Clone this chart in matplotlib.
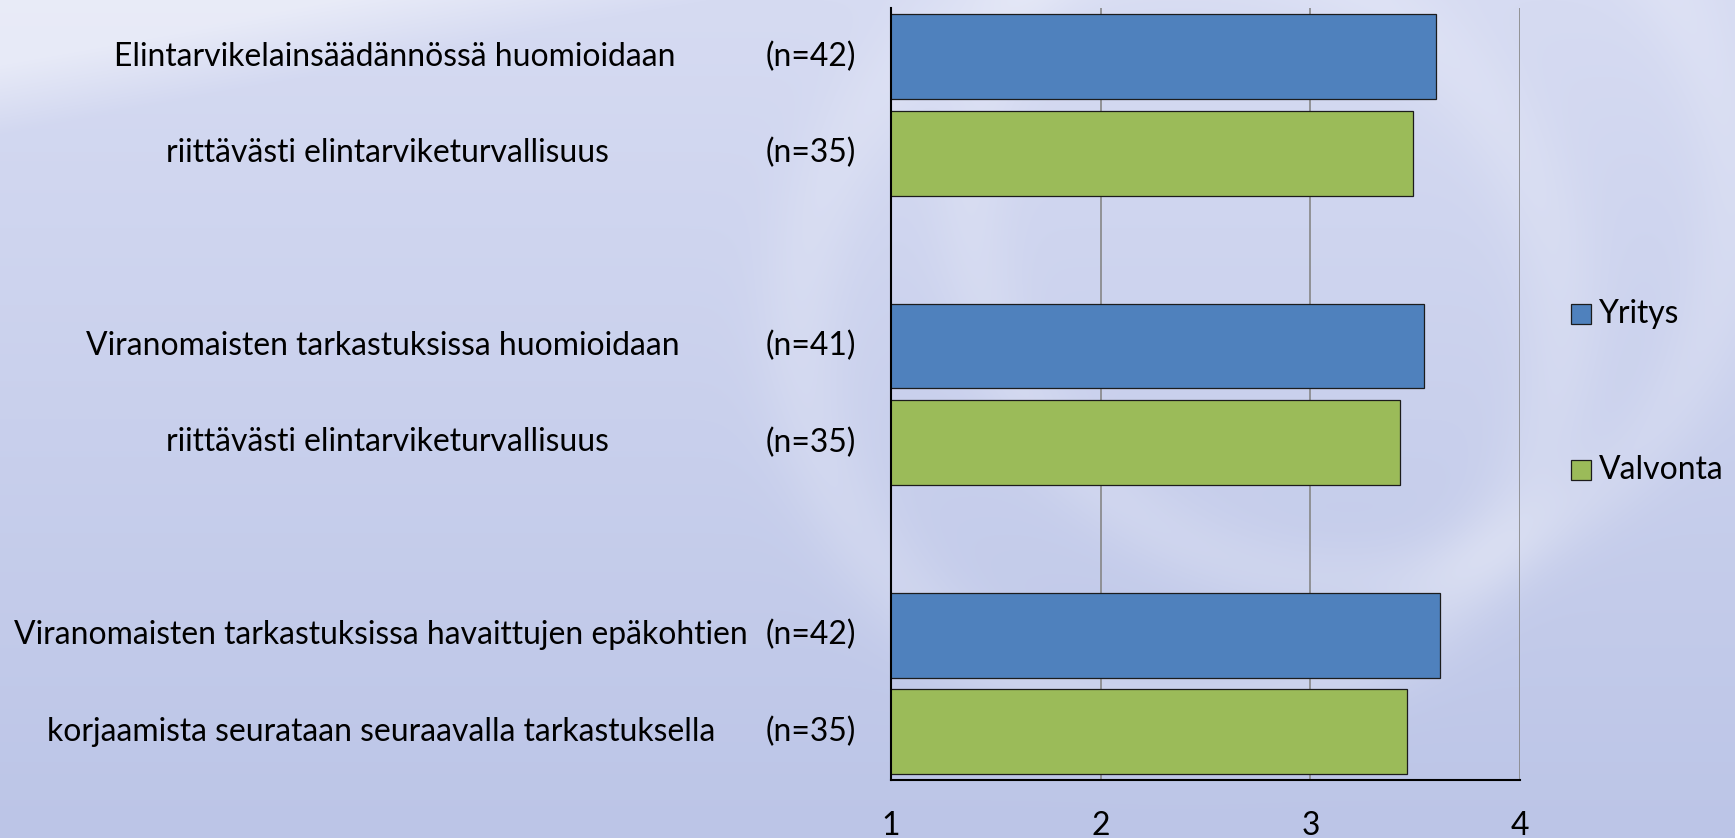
import numpy as np
import matplotlib
matplotlib.use("Agg")
import matplotlib.pyplot as plt
from matplotlib.patches import Rectangle
from matplotlib.transforms import blended_transform_factory

# ---------------- data ----------------
row_labels = ["Elintarvikelainsäädännössä huomioidaan",
              "riittävästi elintarviketurvallisuus",
              "",
              "Viranomaisten tarkastuksissa huomioidaan",
              "riittävästi elintarviketurvallisuus",
              "",
              "Viranomaisten tarkastuksissa havaittujen epäkohtien",
              "korjaamista seurataan seuraavalla tarkastuksella"]
row_n = ["(n=42)", "(n=35)", "", "(n=41)", "(n=35)", "", "(n=42)", "(n=35)"]
series_names = ["Yritys", "Valvonta"]
yritys = [3.60, 3.54, 3.62]
valvonta = [3.49, 3.43, 3.46]
yritys_rows = [0, 3, 6]
valvonta_rows = [1, 4, 7]
x_ticks = [1, 2, 3, 4]

# ---------------- layout / style ----------------
W, H = 1735, 838
FONT = ["Lato", "DejaVu Sans"]
colors = ["#4F81BD", "#9BBB59"]
label_centers_px = [395, 387, None, 383, 387, None, 381, 381]
n_right_px = 856
ax_l, ax_r, ax_t, ax_b = 891, 1520, 8.5, 780

fig = plt.figure(figsize=(W / 100, H / 100), dpi=100)

# background
bg = fig.add_axes([0, 0, 1, 1], zorder=-10)
bg.axis("off")
yy, xx = np.mgrid[0:H, 0:W].astype(float)
top = np.array([214, 219, 242]) / 255.0
bot = np.array([188, 197, 231]) / 255.0
t = (yy / H)[..., None]
img = top * (1 - t) + bot * t
white = np.ones(3)
# top-left sheen
d = yy + 0.19 * xx
w1 = np.clip((135 - d) / 70.0, 0, 1) * 0.45
img = img * (1 - w1[..., None]) + white * w1[..., None]
# large soft swooshes
def ring(cx, cy, R, width, alpha):
    rr = np.hypot(xx - cx, yy - cy)
    return np.exp(-((rr - R) / width) ** 2) * alpha
w2 = ring(1180, 330, 380, 45, 0.18) + ring(1350, 200, 380, 40, 0.16)
w2 = np.clip(w2, 0, 0.4)
img = img * (1 - w2[..., None]) + white * w2[..., None]
bg.imshow(img, extent=[0, 1, 0, 1], aspect="auto", interpolation="bilinear")
bg.set_xlim(0, 1)
bg.set_ylim(0, 1)

# font size from target width
r = fig.canvas.get_renderer()
probe = fig.text(0, 0, row_labels[6], fontsize=20, family=FONT)
pw = probe.get_window_extent(r).width
probe.remove()
FS = 20 * 736 / pw

ax = fig.add_axes([ax_l / W, 1 - ax_b / H, (ax_r - ax_l) / W, (ax_b - ax_t) / H])
ax.patch.set_alpha(0)

bar_h = 0.88
ax.barh(yritys_rows, yritys, height=bar_h, color=colors[0], edgecolor="#1c1c1c",
        linewidth=0.9, label=series_names[0], zorder=3)
ax.barh(valvonta_rows, valvonta, height=bar_h, color=colors[1], edgecolor="#1c1c1c",
        linewidth=0.9, label=series_names[1], zorder=3)

ax.set_xlim(x_ticks[0], x_ticks[-1])
ax.set_ylim(len(row_labels) - 0.5, -0.5)
ax.set_xticks(x_ticks)
ax.set_xticklabels([str(v) for v in x_ticks], fontsize=FS, family=FONT)
ax.set_yticks([])
ax.tick_params(axis="x", length=0, pad=22)
ax.xaxis.grid(True, color="#868686", linewidth=1.2, zorder=0)
ax.set_axisbelow(True)
for s in ["top", "right"]:
    ax.spines[s].set_visible(False)
ax.spines["left"].set_color("black")
ax.spines["left"].set_linewidth(1.5)
ax.spines["bottom"].set_color("black")
ax.spines["bottom"].set_linewidth(1.5)
ax.spines["left"].set_zorder(5)

# y labels
tr = blended_transform_factory(fig.transFigure, ax.transData)
for i, (lab, n) in enumerate(zip(row_labels, row_n)):
    if lab:
        fig.text(label_centers_px[i] / W, i, lab, transform=tr, ha="center",
                 va="center", fontsize=FS, family=FONT, color="black")
    if n:
        fig.text(n_right_px / W, i, n, transform=tr, ha="right", va="center",
                 fontsize=FS, family=FONT, color="black")

# legend (manual)
leg_y = [314, 470]
sq = 20
for name, c, yc in zip(series_names, colors, leg_y):
    fig.patches.append(Rectangle((1571 / W, 1 - (yc + sq / 2) / H), sq / W, sq / H,
                                 transform=fig.transFigure, facecolor=c,
                                 edgecolor="#1c1c1c", linewidth=0.9))
    fig.text(1599 / W, 1 - yc / H, name, ha="left", va="center", fontsize=FS,
             family=FONT, color="black")

fig.savefig("out.png", dpi=100)
